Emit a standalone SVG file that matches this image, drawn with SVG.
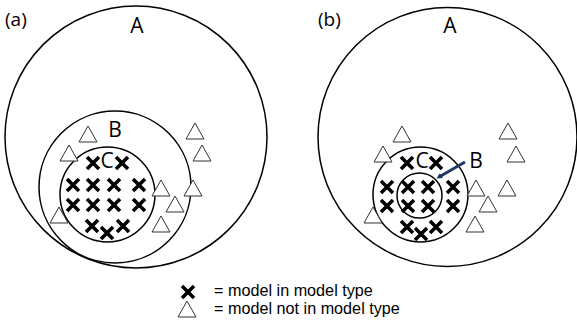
<svg xmlns="http://www.w3.org/2000/svg" width="577" height="327" viewBox="0 0 577 327">
<style>
.c{fill:none;stroke:#000;stroke-width:1.5}
.x{stroke:#000;stroke-width:3.6;stroke-linecap:butt;fill:none}
.t{fill:#fff;stroke:#333;stroke-width:1}
.lbl{font-family:"Open Sans","Liberation Sans",sans-serif;fill:#000}
.big{font-size:21px}
.leg{font-family:"Liberation Sans",Arial,sans-serif;font-size:16.2px;fill:#000}
</style>
<defs>
<g id="cross"><path class="x" d="M-6,-6L6,6M6,-6L-6,6"/></g>
<polygon id="tri" class="t" points="0,-8 9,8 -9,8"/>
<marker id="ah" markerWidth="6" markerHeight="6" refX="3" refY="3" orient="auto" markerUnits="userSpaceOnUse"><path d="M0,0L6,3L0,6z" fill="#1f3864"/></marker>
</defs>
<text class="lbl" x="5" y="26" font-size="19">(a)</text>
<text class="lbl" x="318" y="26" font-size="19">(b)</text>
<g id="panelA">
<g id="a-A"><circle class="c" cx="136" cy="137" r="131"/><text class="lbl big" x="137" y="33" text-anchor="middle">A</text></g>
<g id="a-B"><circle class="c" cx="115" cy="187" r="76"/><text class="lbl big" x="115" y="137" text-anchor="middle">B</text></g>
<g id="a-C"><circle class="c" cx="107.5" cy="194.5" r="47.5"/><text class="lbl big" x="107" y="168" text-anchor="middle">C</text></g>
<g id="a-cross">
<use href="#cross" x="93" y="163"/><use href="#cross" x="122" y="163"/>
<use href="#cross" x="73" y="185"/><use href="#cross" x="93" y="185"/><use href="#cross" x="114" y="185"/><use href="#cross" x="139" y="185"/>
<use href="#cross" x="73" y="205"/><use href="#cross" x="93" y="205"/><use href="#cross" x="114" y="205"/><use href="#cross" x="139" y="205"/>
<use href="#cross" x="92" y="226"/><use href="#cross" x="107" y="233"/><use href="#cross" x="123" y="226"/>
</g>
<g id="a-tri">
<use href="#tri" x="88" y="134"/><use href="#tri" x="69" y="153"/><use href="#tri" x="195" y="131"/><use href="#tri" x="202" y="153"/>
<use href="#tri" x="161" y="188"/><use href="#tri" x="193" y="188"/><use href="#tri" x="175" y="204"/><use href="#tri" x="161" y="224"/><use href="#tri" x="59" y="215"/>
</g>
</g>
<g id="panelB">
<g id="b-A"><circle class="c" cx="447.5" cy="137" r="129.5"/><text class="lbl big" x="450" y="33" text-anchor="middle">A</text></g>
<g id="b-C"><circle class="c" cx="420.5" cy="194.5" r="47.5"/><text class="lbl big" x="422" y="168" text-anchor="middle">C</text></g>
<g id="b-B"><circle class="c" cx="419.5" cy="195.5" r="22.5"/><text class="lbl big" x="476" y="168" text-anchor="middle">B</text></g>
<g id="b-cross">
<use href="#cross" x="407" y="163"/><use href="#cross" x="436" y="163"/>
<use href="#cross" x="387" y="187"/><use href="#cross" x="408" y="187"/><use href="#cross" x="428" y="187"/><use href="#cross" x="453" y="187"/>
<use href="#cross" x="387" y="206"/><use href="#cross" x="408" y="206"/><use href="#cross" x="428" y="206"/><use href="#cross" x="453" y="206"/>
<use href="#cross" x="407" y="227"/><use href="#cross" x="421" y="234"/><use href="#cross" x="436" y="227"/>
</g>
<g id="b-tri">
<use href="#tri" x="402" y="134"/><use href="#tri" x="383" y="154"/><use href="#tri" x="373" y="215"/><use href="#tri" x="476" y="188"/>
<use href="#tri" x="488" y="204"/><use href="#tri" x="475" y="224"/><use href="#tri" x="508" y="131"/><use href="#tri" x="516" y="154"/><use href="#tri" x="507" y="188"/>
</g>
</g>
<g id="connectors">
<line x1="465" y1="162" x2="439" y2="177" stroke="#1f3864" stroke-width="3" marker-end="url(#ah)"/>
</g>
<g id="legend">
<use href="#cross" x="188" y="292"/>
<text class="leg" x="214" y="295.5">= model in model type</text>
<use href="#tri" x="187" y="309"/>
<text class="leg" x="214" y="313.5">= model not in model type</text>
</g>
</svg>
